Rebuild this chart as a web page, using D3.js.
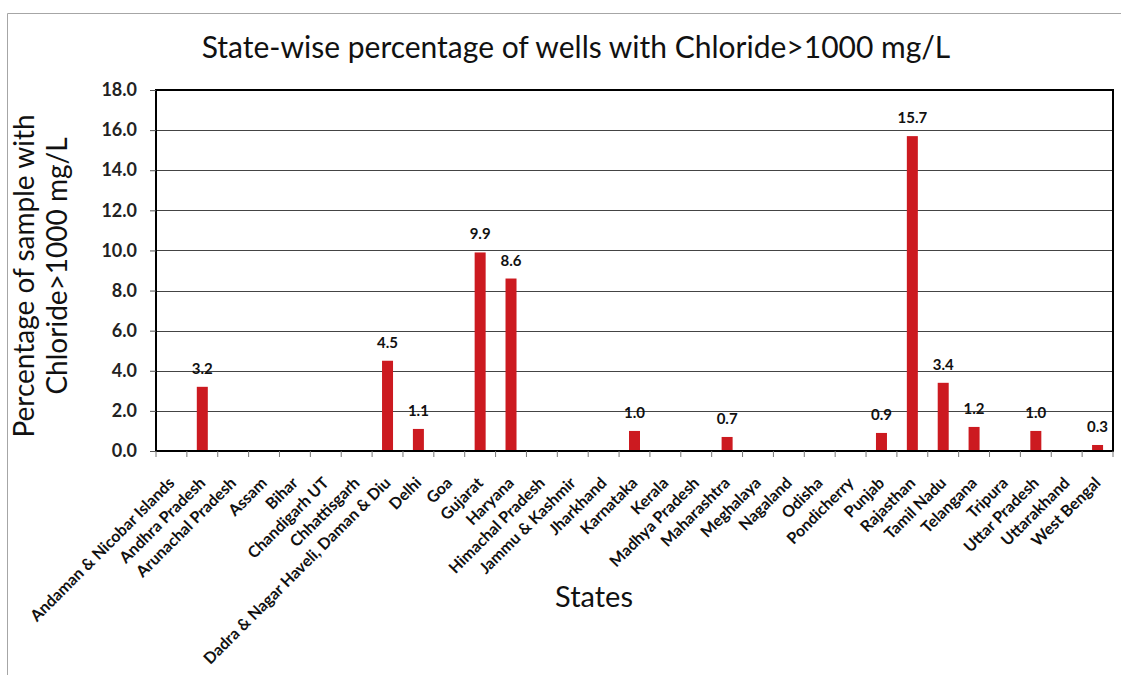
<!DOCTYPE html>
<html><head><meta charset="utf-8">
<script src="https://cdn.jsdelivr.net/npm/d3@7"></script>
<style>body{margin:0;background:#fff;} text{font-family:Lato, "Open Sans", sans-serif;}</style>
</head><body><svg id="c" width="1121" height="675"></svg>
<script>
const states = ["Andaman & Nicobar Islands","Andhra Pradesh","Arunachal Pradesh","Assam","Bihar","Chandigarh UT","Chhattisgarh","Dadra & Nagar Haveli, Daman & Diu","Delhi","Goa","Gujarat","Haryana","Himachal Pradesh","Jammu & Kashmir","Jharkhand","Karnataka","Kerala","Madhya Pradesh","Maharashtra","Meghalaya","Nagaland","Odisha","Pondicherry","Punjab","Rajasthan","Tamil Nadu","Telangana","Tripura","Uttar Pradesh","Uttarakhand","West Bengal"];
const values = [0,3.2,0,0,0,0,0,4.5,1.1,0,9.9,8.6,0,0,0,1.0,0,0,0.7,0,0,0,0,0.9,15.7,3.4,1.2,0,1.0,0,0.3];
const yTicks = [0,2,4,6,8,10,12,14,16,18];
const titleText = "State-wise percentage of wells with Chloride>1000 mg/L";
const yTitle = ["Percentage of sample with","Chloride>1000 mg/L"];
const xTitle = "States";

const svg = d3.select("#c");
const L=156, R=1113, T=90, B=451;
const xb = d3.scaleBand().domain(states).range([L,R]);
const y = d3.scaleLinear().domain([0,18]).range([B,T]);

// outer frame
svg.append("path").attr("d",`M7.5,675 V13.5 H1121`).attr("fill","none").attr("stroke","#a6a6a6").attr("stroke-width",1);

// gridlines
svg.append("g").selectAll("line").data(yTicks.slice(1,-1)).join("line")
  .attr("x1",L).attr("x2",R).attr("y1",d=>Math.round(y(d))+0.5).attr("y2",d=>Math.round(y(d))+0.5)
  .attr("stroke","#444").attr("stroke-width",1);

// bars
svg.append("g").selectAll("rect").data(states).join("rect")
  .attr("x",(d,i)=>xb(d)+xb.bandwidth()/2-5.5).attr("width",11)
  .attr("y",(d,i)=>y(values[i])).attr("height",(d,i)=>B-y(values[i]))
  .attr("fill","#cc1a20");

// data labels
svg.append("g").selectAll("text").data(states.map((s,i)=>[s,values[i]]).filter(d=>d[1]>0)).join("text")
  .attr("x",d=>xb(d[0])+xb.bandwidth()/2).attr("y",d=>y(d[1])-13)
  .attr("text-anchor","middle").attr("font-size",15).attr("font-weight","bold").attr("fill","#111")
  .text(d=>d3.format(".1f")(d[1]));

// frame
svg.append("rect").attr("x",L).attr("y",T).attr("width",R-L).attr("height",B-T)
  .attr("fill","none").attr("stroke","#000").attr("stroke-width",2);

// y axis
const ya = svg.append("g").attr("transform",`translate(${L},0)`)
  .call(d3.axisLeft(y).tickValues(yTicks).tickFormat(d3.format(".1f")).tickSize(6).tickPadding(13));
ya.select(".domain").remove();
ya.selectAll("line").attr("stroke","#555");
ya.selectAll("text").attr("font-size",18).attr("font-weight","bold").attr("fill","#222").attr("font-family","Lato");

// x axis ticks at band boundaries
const bounds = states.map(s=>xb(s)).concat([R]);
svg.append("g").selectAll("line").data(bounds).join("line")
  .attr("x1",d=>d).attr("x2",d=>d).attr("y1",B).attr("y2",B+6).attr("stroke","#777");

// x labels
svg.append("g").selectAll("text").data(states).join("text")
  .attr("transform",d=>`translate(${xb(d)+xb.bandwidth()/2+4},${B+33}) rotate(-45)`)
  .attr("text-anchor","end").attr("font-size",16).attr("font-weight","bold").attr("fill","#111")
  .text(d=>d);

// title
svg.append("text").attr("x",576).attr("y",58).attr("text-anchor","middle")
  .attr("font-size",30).attr("fill","#111").text(titleText);

// y title
const yCenters = [276, 266];
const yBase = [34, 67];
yTitle.forEach((t,i)=>{
  svg.append("text").attr("transform",`translate(${yBase[i]},${yCenters[i]}) rotate(-90)`)
    .attr("text-anchor","middle").attr("font-size",28).attr("fill","#111").text(t);
});

// x title
svg.append("text").attr("x",594).attr("y",607).attr("text-anchor","middle")
  .attr("font-size",29).attr("fill","#111").text(xTitle);
</script></body></html>
